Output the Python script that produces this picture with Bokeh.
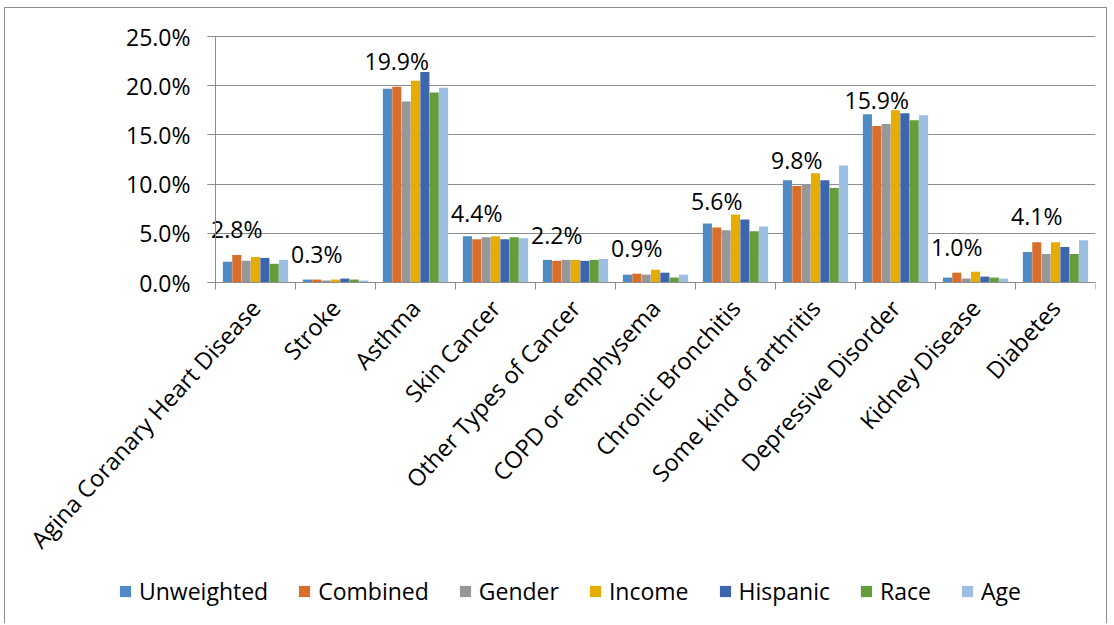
import math
from bokeh.plotting import figure
from bokeh.models import (Range1d, FixedTicker, PrintfTickFormatter, Legend, LegendItem,
                          ColumnDataSource, Grid)
from bokeh.core.properties import value
from bokeh.embed import file_html
from bokeh.resources import INLINE

categories = ["Agina Coranary Heart Disease", "Stroke", "Asthma", "Skin Cancer",
              "Other Types of Cancer", "COPD or emphysema", "Chronic Bronchitis",
              "Some kind of arthritis", "Depressive Disorder", "Kidney Disease", "Diabetes"]

series_names = ["Unweighted", "Combined", "Gender", "Income", "Hispanic", "Race", "Age"]

unweighted = [2.1, 0.3, 19.7, 4.7, 2.3, 0.8, 6.0, 10.4, 17.1, 0.5, 3.1]
combined = [2.8, 0.3, 19.9, 4.4, 2.2, 0.9, 5.6, 9.8, 15.9, 1.0, 4.1]
gender = [2.2, 0.2, 18.4, 4.6, 2.3, 0.8, 5.3, 10.0, 16.1, 0.4, 2.9]
income = [2.6, 0.3, 20.5, 4.7, 2.3, 1.3, 6.9, 11.1, 17.5, 1.1, 4.1]
hispanic = [2.5, 0.4, 21.4, 4.4, 2.2, 1.0, 6.4, 10.4, 17.2, 0.6, 3.6]
race = [1.9, 0.3, 19.3, 4.6, 2.3, 0.5, 5.2, 9.6, 16.5, 0.5, 2.9]
age = [2.3, 0.2, 19.8, 4.5, 2.4, 0.8, 5.7, 11.9, 17.0, 0.4, 4.3]

y_ticks = [0, 5, 10, 15, 20, 25]

series_values = [unweighted, combined, gender, income, hispanic, race, age]
colors = ["#4F8BC3", "#D86E2C", "#979797", "#E6AD00", "#3E66AF", "#649C3E", "#9CBEE3"]

FONT = "Open Sans"
n = len(categories)
bar_w = 0.117

# layout (pixels)
W, H = 1103, 616
B_LEFT, B_RIGHT, B_TOP, B_BOTTOM = 2, 13, 2, 10
frame_w = W - B_LEFT - B_RIGHT
frame_h = H - B_TOP - B_BOTTOM
cat_px = 80     # pixel width of one category
plot_px = 246   # pixel height of the 0..25 value band
top_gap = 26    # pixels between frame top and the 25% line
y_max = y_ticks[-1]
px_per_unit = plot_px / y_max
y_top = y_max + top_gap / px_per_unit
y_min = y_top - frame_h / px_per_unit
x_min = n - frame_w / cat_px

p = figure(width=W, height=H, x_range=Range1d(x_min, n), y_range=Range1d(y_min, y_top),
           output_backend="svg", toolbar_location=None,
           min_border_left=B_LEFT, min_border_right=B_RIGHT,
           min_border_top=B_TOP, min_border_bottom=B_BOTTOM)
p.styles = {"margin-left": "4px", "margin-top": "7px",
            "border-left": "1.5px solid #8e8e8e", "border-top": "1.5px solid #8e8e8e",
            "border-right": "1.5px solid #8e8e8e"}
p.outline_line_color = None
p.background_fill_color = "white"
p.border_fill_color = "white"

# grid
p.xgrid.visible = False
p.ygrid.grid_line_color = "#8c8c8c"
p.ygrid.grid_line_width = 1
p.ygrid.ticker = FixedTicker(ticks=y_ticks)
if "cross_bounds" in Grid.properties():
    p.ygrid.cross_bounds = (-0.1, n)

items = []
for k, (name, vals, col) in enumerate(zip(series_names, series_values, colors)):
    xs = [i + 0.5 + (k - 3) * bar_w for i in range(n)]
    src = ColumnDataSource(dict(x=xs, top=vals))
    r = p.vbar(x="x", top="top", bottom=0, width=bar_w * 0.97, source=src,
               fill_color=col, line_color=None)
    items.append(LegendItem(label=name, renderers=[r]))

# data labels above the Combined series
lab_src = ColumnDataSource(dict(x=[i + 0.5 - 2 * bar_w for i in range(n)], y=combined,
                                t=[f"{v:.1f}%" for v in combined]))
p.text(x="x", y="y", text="t", source=lab_src, text_font=value(FONT),
       text_font_size="23px", text_align="center", text_baseline="middle",
       y_offset=-26, text_color="#000000")

# axes
p.yaxis.fixed_location = 0
p.yaxis.ticker = FixedTicker(ticks=y_ticks)
p.yaxis.bounds = (0, y_max)
p.yaxis.formatter = PrintfTickFormatter(format="%.1f%%")
p.yaxis.major_label_text_font = FONT
p.yaxis.major_label_text_font_size = "23px"
p.yaxis.major_label_text_color = "#000000"
p.yaxis.axis_line_color = "#8c8c8c"
p.yaxis.major_tick_line_color = "#8c8c8c"
p.yaxis.major_tick_out = 8
p.yaxis.major_tick_in = 0
p.yaxis.minor_tick_line_color = None
p.yaxis.major_label_standoff = 17

centers = [i + 0.5 for i in range(n)]
p.xaxis.fixed_location = 0
p.xaxis.bounds = (0, n)
p.xaxis.ticker = FixedTicker(ticks=centers, minor_ticks=list(range(n + 1)))
p.xaxis.major_label_overrides = {c: name for c, name in zip(centers, categories)}
p.xaxis.major_label_orientation = 0.829
p.xaxis.major_label_text_font = FONT
p.xaxis.major_label_text_font_size = "23.5px"
p.xaxis.major_label_text_color = "#000000"
p.xaxis.major_tick_line_color = None
p.xaxis.minor_tick_line_color = "#8c8c8c"
p.xaxis.minor_tick_out = 7
p.xaxis.minor_tick_in = 0
p.xaxis.axis_line_color = "#8c8c8c"
p.xaxis.major_label_standoff = 14

legend = Legend(items=items, orientation="horizontal", location=(111, 7),
                label_text_font=FONT, label_text_font_size="23px",
                label_text_color="#000000", glyph_width=14, glyph_height=14,
                label_standoff=7, spacing=29, padding=0, margin=0,
                border_line_color=None, background_fill_alpha=0)
p.add_layout(legend, "center")

open("out.html", "w").write(file_html(p, INLINE))
